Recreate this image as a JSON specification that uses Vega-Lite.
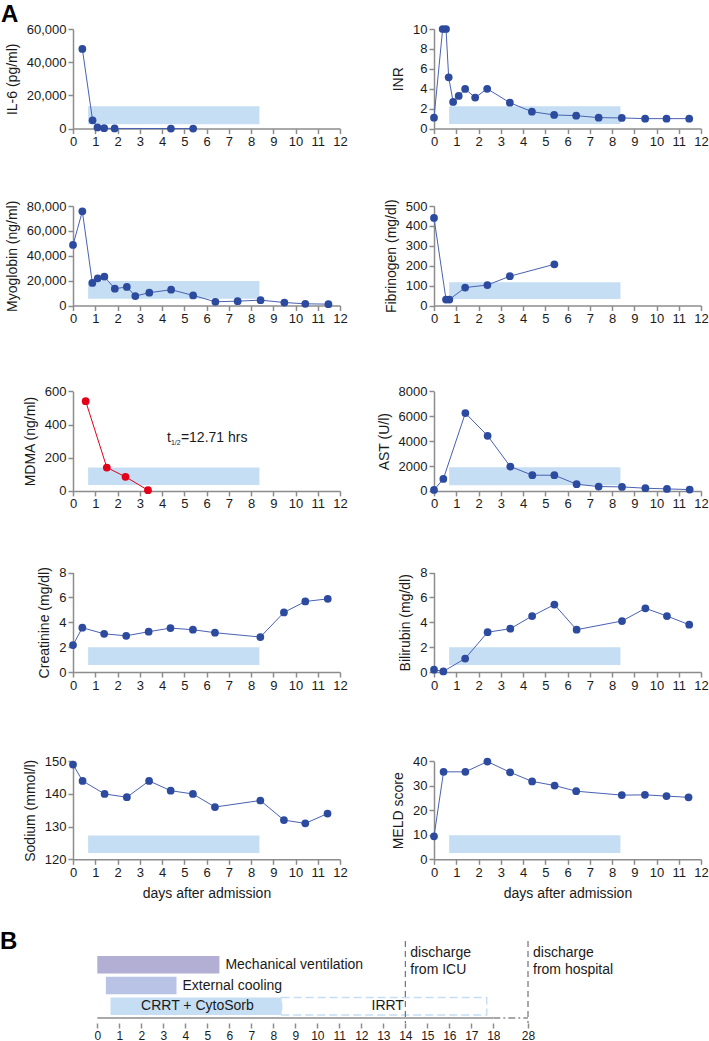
{
  "$schema": "https://vega.github.io/schema/vega-lite/v6.json",
  "padding": {"left": 0, "top": 3, "right": 0, "bottom": 0},
  "title": {"text": "A", "dx": -72, "offset": -4},
  "spacing": 28,
  "vconcat": [
    {
      "columns": 2,
      "align": "each",
      "bounds": "flush",
      "spacing": {"row": 77, "column": 94},
      "concat": [
        {
          "width": 267, "height": 99.6,
          "encoding": {
            "x": {"field": "day", "type": "quantitative", "scale": {"domain": [0, 12], "nice": false, "zero": false}, "axis": {"values": [0,1,2,3,4,5,6,7,8,9,10,11,12], "title": null}},
            "y": {"field": "value", "type": "quantitative", "scale": {"domain": [0, 60000], "nice": false, "zero": false, "range": [99.6, 0]}, "axis": {"values": [0, 20000, 40000, 60000], "format": ",.0f", "title": "IL-6 (pg/ml)"}}
          },
          "layer": [
            {"data": {"values": [{"day": 0.68, "day2": 8.38, "value": 2600, "value2": 13400}]}, "mark": {"type": "rect", "color": "#c5def3"}, "encoding": {"x2": {"field": "day2"}, "y2": {"field": "value2"}}},
            {"data": {"values": [{"day": 0.42, "value": 48000}, {"day": 0.88, "value": 5000}, {"day": 1.1, "value": 700}, {"day": 1.4, "value": 250}, {"day": 1.87, "value": 80}, {"day": 4.4, "value": 40}, {"day": 5.4, "value": 30}]}, "mark": {"type": "line", "color": "#4961b3", "strokeWidth": 1, "point": {"filled": true, "size": 60, "color": "#2c4a9e", "opacity": 1}}}
          ]
        },
        {
          "width": 267, "height": 99.6,
          "encoding": {
            "x": {"field": "day", "type": "quantitative", "scale": {"domain": [0, 12], "nice": false, "zero": false}, "axis": {"values": [0,1,2,3,4,5,6,7,8,9,10,11,12], "title": null}},
            "y": {"field": "value", "type": "quantitative", "scale": {"domain": [0, 10], "nice": false, "zero": false, "range": [99.6, 0]}, "axis": {"values": [0, 2, 4, 6, 8, 10], "title": "INR"}}
          },
          "layer": [
            {"data": {"values": [{"day": 0.68, "day2": 8.38, "value": 0.45, "value2": 2.25}]}, "mark": {"type": "rect", "color": "#c5def3"}, "encoding": {"x2": {"field": "day2"}, "y2": {"field": "value2"}}},
            {"data": {"values": [{"day": 0, "value": 1.1}, {"day": 0.39, "value": 10}, {"day": 0.54, "value": 10}, {"day": 0.66, "value": 5.15}, {"day": 0.86, "value": 2.68}, {"day": 1.11, "value": 3.28}, {"day": 1.4, "value": 3.98}, {"day": 1.85, "value": 3.11}, {"day": 2.39, "value": 4.0}, {"day": 3.41, "value": 2.6}, {"day": 4.4, "value": 1.7}, {"day": 5.4, "value": 1.37}, {"day": 6.39, "value": 1.3}, {"day": 7.4, "value": 1.1}, {"day": 8.44, "value": 1.07}, {"day": 9.49, "value": 1.0}, {"day": 10.45, "value": 1.0}, {"day": 11.47, "value": 1.0}]}, "mark": {"type": "line", "color": "#4961b3", "strokeWidth": 1, "point": {"filled": true, "size": 60, "color": "#2c4a9e", "opacity": 1}}}
          ]
        },
        {
          "width": 267, "height": 99.5,
          "encoding": {
            "x": {"field": "day", "type": "quantitative", "scale": {"domain": [0, 12], "nice": false, "zero": false}, "axis": {"values": [0,1,2,3,4,5,6,7,8,9,10,11,12], "title": null}},
            "y": {"field": "value", "type": "quantitative", "scale": {"domain": [0, 80000], "nice": false, "zero": false, "range": [99.5, 0]}, "axis": {"values": [0, 20000, 40000, 60000, 80000], "format": ",.0f", "title": "Myoglobin (ng/ml)"}}
          },
          "layer": [
            {"data": {"values": [{"day": 0.68, "day2": 8.38, "value": 5400, "value2": 19700}]}, "mark": {"type": "rect", "color": "#c5def3"}, "encoding": {"x2": {"field": "day2"}, "y2": {"field": "value2"}}},
            {"data": {"values": [{"day": 0, "value": 48650}, {"day": 0.42, "value": 75700}, {"day": 0.87, "value": 18100}, {"day": 1.11, "value": 21900}, {"day": 1.41, "value": 23200}, {"day": 1.88, "value": 13500}, {"day": 2.42, "value": 14900}, {"day": 2.8, "value": 7600}, {"day": 3.43, "value": 10300}, {"day": 4.41, "value": 12700}, {"day": 5.4, "value": 8100}, {"day": 6.4, "value": 3000}, {"day": 7.4, "value": 3500}, {"day": 8.43, "value": 4300}, {"day": 9.5, "value": 2400}, {"day": 10.44, "value": 1350}, {"day": 11.48, "value": 1100}]}, "mark": {"type": "line", "color": "#4961b3", "strokeWidth": 1, "point": {"filled": true, "size": 60, "color": "#2c4a9e", "opacity": 1}}}
          ]
        },
        {
          "width": 267, "height": 99.5,
          "encoding": {
            "x": {"field": "day", "type": "quantitative", "scale": {"domain": [0, 12], "nice": false, "zero": false}, "axis": {"values": [0,1,2,3,4,5,6,7,8,9,10,11,12], "title": null}},
            "y": {"field": "value", "type": "quantitative", "scale": {"domain": [0, 500], "nice": false, "zero": false, "range": [99.5, 0]}, "axis": {"values": [0, 100, 200, 300, 400, 500], "title": "Fibrinogen (mg/dl)"}}
          },
          "layer": [
            {"data": {"values": [{"day": 0.68, "day2": 8.38, "value": 33, "value2": 117}]}, "mark": {"type": "rect", "color": "#c5def3"}, "encoding": {"x2": {"field": "day2"}, "y2": {"field": "value2"}}},
            {"data": {"values": [{"day": 0, "value": 440}, {"day": 0.54, "value": 30}, {"day": 0.69, "value": 30}, {"day": 1.4, "value": 90}, {"day": 2.4, "value": 103}, {"day": 3.41, "value": 147}, {"day": 5.41, "value": 207}]}, "mark": {"type": "line", "color": "#4961b3", "strokeWidth": 1, "point": {"filled": true, "size": 60, "color": "#2c4a9e", "opacity": 1}}}
          ]
        },
        {
          "width": 267, "height": 107.9,
          "encoding": {
            "x": {"field": "day", "type": "quantitative", "scale": {"domain": [0, 12], "nice": false, "zero": false}, "axis": {"values": [0,1,2,3,4,5,6,7,8,9,10,11,12], "title": null}},
            "y": {"field": "value", "type": "quantitative", "scale": {"domain": [0, 600], "nice": false, "zero": false, "range": [107.9, 8.4]}, "axis": {"values": [0, 200, 400, 600], "title": "MDMA (ng/ml)"}}
          },
          "layer": [
            {"data": {"values": [{"day": 0.68, "day2": 8.38, "value": 36, "value2": 141}]}, "mark": {"type": "rect", "color": "#c5def3"}, "encoding": {"x2": {"field": "day2"}, "y2": {"field": "value2"}}},
            {"data": {"values": [{"day": 0.57, "value": 541}, {"day": 1.52, "value": 141}, {"day": 2.36, "value": 85}, {"day": 3.37, "value": 4}]}, "mark": {"type": "line", "color": "#e2001a", "strokeWidth": 1, "point": {"filled": true, "size": 60, "color": "#e2001a", "opacity": 1}}},
            {"data": {"values": [{"day": 4.22, "value": 320, "label": "t"}]}, "mark": {"type": "text", "align": "left", "baseline": "middle", "fontSize": 14, "color": "#1a1a1a"}, "encoding": {"text": {"field": "label"}}},
            {"data": {"values": [{"day": 4.22, "value": 320, "label": "1/2"}]}, "mark": {"type": "text", "align": "left", "baseline": "middle", "fontSize": 7, "dx": 4, "dy": 5, "color": "#1a1a1a"}, "encoding": {"text": {"field": "label"}}},
            {"data": {"values": [{"day": 4.22, "value": 320, "label": "=12.71 hrs"}]}, "mark": {"type": "text", "align": "left", "baseline": "middle", "fontSize": 14, "dx": 14, "color": "#1a1a1a"}, "encoding": {"text": {"field": "label"}}}
          ]
        },
        {
          "width": 267, "height": 107.9,
          "encoding": {
            "x": {"field": "day", "type": "quantitative", "scale": {"domain": [0, 12], "nice": false, "zero": false}, "axis": {"values": [0,1,2,3,4,5,6,7,8,9,10,11,12], "title": null}},
            "y": {"field": "value", "type": "quantitative", "scale": {"domain": [0, 8000], "nice": false, "zero": false, "range": [107.9, 8.4]}, "axis": {"values": [0, 2000, 4000, 6000, 8000], "format": "d", "title": "AST (U/l)"}}
          },
          "layer": [
            {"data": {"values": [{"day": 0.68, "day2": 8.38, "value": 451, "value2": 1900}]}, "mark": {"type": "rect", "color": "#c5def3"}, "encoding": {"x2": {"field": "day2"}, "y2": {"field": "value2"}}},
            {"data": {"values": [{"day": 0, "value": 80}, {"day": 0.42, "value": 966}, {"day": 1.41, "value": 6255}, {"day": 2.41, "value": 4430}, {"day": 3.43, "value": 1960}, {"day": 4.42, "value": 1262}, {"day": 5.41, "value": 1262}, {"day": 6.41, "value": 537}, {"day": 7.4, "value": 349}, {"day": 8.45, "value": 322}, {"day": 9.5, "value": 215}, {"day": 10.47, "value": 161}, {"day": 11.49, "value": 107}]}, "mark": {"type": "line", "color": "#4961b3", "strokeWidth": 1, "point": {"filled": true, "size": 60, "color": "#2c4a9e", "opacity": 1}}}
          ]
        },
        {
          "width": 267, "height": 104,
          "encoding": {
            "x": {"field": "day", "type": "quantitative", "scale": {"domain": [0, 12], "nice": false, "zero": false}, "axis": {"values": [0,1,2,3,4,5,6,7,8,9,10,11,12], "title": null}},
            "y": {"field": "value", "type": "quantitative", "scale": {"domain": [0, 8], "nice": false, "zero": false, "range": [104, 4.5]}, "axis": {"values": [0, 2, 4, 6, 8], "title": "Creatinine (mg/dl)"}}
          },
          "layer": [
            {"data": {"values": [{"day": 0.68, "day2": 8.38, "value": 0.56, "value2": 2.0}]}, "mark": {"type": "rect", "color": "#c5def3"}, "encoding": {"x2": {"field": "day2"}, "y2": {"field": "value2"}}},
            {"data": {"values": [{"day": 0, "value": 2.17}, {"day": 0.42, "value": 3.56}, {"day": 1.4, "value": 3.07}, {"day": 2.39, "value": 2.91}, {"day": 3.4, "value": 3.24}, {"day": 4.38, "value": 3.53}, {"day": 5.39, "value": 3.4}, {"day": 6.38, "value": 3.16}, {"day": 8.42, "value": 2.81}, {"day": 9.48, "value": 4.79}, {"day": 10.44, "value": 5.67}, {"day": 11.45, "value": 5.88}]}, "mark": {"type": "line", "color": "#4961b3", "strokeWidth": 1, "point": {"filled": true, "size": 60, "color": "#2c4a9e", "opacity": 1}}}
          ]
        },
        {
          "width": 267, "height": 104,
          "encoding": {
            "x": {"field": "day", "type": "quantitative", "scale": {"domain": [0, 12], "nice": false, "zero": false}, "axis": {"values": [0,1,2,3,4,5,6,7,8,9,10,11,12], "title": null}},
            "y": {"field": "value", "type": "quantitative", "scale": {"domain": [0, 8], "nice": false, "zero": false, "range": [104, 4.5]}, "axis": {"values": [0, 2, 4, 6, 8], "title": "Bilirubin (mg/dl)"}}
          },
          "layer": [
            {"data": {"values": [{"day": 0.68, "day2": 8.38, "value": 0.56, "value2": 2.0}]}, "mark": {"type": "rect", "color": "#c5def3"}, "encoding": {"x2": {"field": "day2"}, "y2": {"field": "value2"}}},
            {"data": {"values": [{"day": 0, "value": 0.19}, {"day": 0.42, "value": 0.05}, {"day": 1.4, "value": 1.08}, {"day": 2.41, "value": 3.2}, {"day": 3.43, "value": 3.48}, {"day": 4.41, "value": 4.5}, {"day": 5.41, "value": 5.42}, {"day": 6.41, "value": 3.4}, {"day": 8.45, "value": 4.1}, {"day": 9.5, "value": 5.12}, {"day": 10.47, "value": 4.5}, {"day": 11.47, "value": 3.8}]}, "mark": {"type": "line", "color": "#4961b3", "strokeWidth": 1, "point": {"filled": true, "size": 60, "color": "#2c4a9e", "opacity": 1}}}
          ]
        },
        {
          "width": 267, "height": 110.3,
          "encoding": {
            "x": {"field": "day", "type": "quantitative", "scale": {"domain": [0, 12], "nice": false, "zero": false}, "axis": {"values": [0,1,2,3,4,5,6,7,8,9,10,11,12], "title": "days after admission"}},
            "y": {"field": "value", "type": "quantitative", "scale": {"domain": [120, 150], "nice": false, "zero": false, "range": [110.3, 12.3]}, "axis": {"values": [120, 130, 140, 150], "title": "Sodium (mmol/l)"}}
          },
          "layer": [
            {"data": {"values": [{"day": 0.68, "day2": 8.38, "value": 121.9, "value2": 127.3}]}, "mark": {"type": "rect", "color": "#c5def3"}, "encoding": {"x2": {"field": "day2"}, "y2": {"field": "value2"}}},
            {"data": {"values": [{"day": 0, "value": 149}, {"day": 0.43, "value": 144}, {"day": 1.42, "value": 140}, {"day": 2.42, "value": 139}, {"day": 3.42, "value": 144}, {"day": 4.39, "value": 141}, {"day": 5.39, "value": 140}, {"day": 6.38, "value": 136}, {"day": 8.42, "value": 138}, {"day": 9.48, "value": 132}, {"day": 10.44, "value": 131}, {"day": 11.44, "value": 134}]}, "mark": {"type": "line", "color": "#4961b3", "strokeWidth": 1, "point": {"filled": true, "size": 60, "color": "#2c4a9e", "opacity": 1}}}
          ]
        },
        {
          "width": 267, "height": 110.3,
          "encoding": {
            "x": {"field": "day", "type": "quantitative", "scale": {"domain": [0, 12], "nice": false, "zero": false}, "axis": {"values": [0,1,2,3,4,5,6,7,8,9,10,11,12], "title": "days after admission"}},
            "y": {"field": "value", "type": "quantitative", "scale": {"domain": [0, 40], "nice": false, "zero": false, "range": [110.3, 12.3]}, "axis": {"values": [0, 10, 20, 30, 40], "title": "MELD score"}}
          },
          "layer": [
            {"data": {"values": [{"day": 0.68, "day2": 8.38, "value": 2.6, "value2": 9.85}]}, "mark": {"type": "rect", "color": "#c5def3"}, "encoding": {"x2": {"field": "day2"}, "y2": {"field": "value2"}}},
            {"data": {"values": [{"day": 0, "value": 9.4}, {"day": 0.43, "value": 35.7}, {"day": 1.41, "value": 35.7}, {"day": 2.4, "value": 39.9}, {"day": 3.42, "value": 35.5}, {"day": 4.41, "value": 31.8}, {"day": 5.42, "value": 30.1}, {"day": 6.39, "value": 27.8}, {"day": 8.44, "value": 26.2}, {"day": 9.48, "value": 26.3}, {"day": 10.45, "value": 25.8}, {"day": 11.44, "value": 25.3}]}, "mark": {"type": "line", "color": "#4961b3", "strokeWidth": 1, "point": {"filled": true, "size": 60, "color": "#2c4a9e", "opacity": 1}}}
          ]
        }
      ]
    },
    {
      "width": 460, "height": 82,
      "title": {"text": "B", "dx": -73, "offset": -13},
      "encoding": {
        "x": {"field": "start", "type": "quantitative", "scale": {"domain": [0, 18, 28], "range": [24.3, 420.3, 455], "nice": false, "zero": false}, "axis": {"values": [0,1,2,3,4,5,6,7,8,9,10,11,12,13,14,15,16,17,18,28], "title": null, "domain": false, "labelFontSize": 12}}
      },
      "layer": [
        {
          "data": {"values": [{"task": "Mechanical ventilation", "start": 0, "end": 5.55, "lane": 3}, {"task": "External cooling", "start": 0.39, "end": 3.6, "lane": 2}, {"task": "CRRT + CytoSorb", "start": 0.6, "end": 8.38, "lane": 1}]},
          "mark": {"type": "bar", "size": 17.5, "opacity": 1},
          "encoding": {
            "x2": {"field": "end"},
            "y": {"field": "lane", "type": "quantitative", "scale": {"domain": [0.43, 3.91], "nice": false, "zero": false}, "axis": null},
            "color": {"field": "task", "type": "nominal", "scale": {"domain": ["Mechanical ventilation", "External cooling", "CRRT + CytoSorb"], "range": ["#b3aed3", "#b9c3e6", "#c5def3"]}, "legend": null}
          }
        },
        {
          "data": {"values": [{"task": "IRRT", "start": 8.38, "end": 17.7, "lane": 1}]},
          "mark": {"type": "bar", "size": 17.5, "filled": false, "color": "#c5def3", "strokeWidth": 1.5, "strokeDash": [8, 4]},
          "encoding": {
            "x2": {"field": "end"},
            "y": {"field": "lane", "type": "quantitative"}
          }
        },
        {
          "data": {"values": [{"event": "discharge from ICU", "start": 14}, {"event": "discharge from hospital", "start": 28}]},
          "mark": {"type": "rule", "color": "#555555", "strokeWidth": 1, "strokeDash": [6, 4]},
          "encoding": {}
        },
        {
          "data": {"values": [{"start": 0, "end": 18, "lane": 0.43}]},
          "mark": {"type": "rule", "color": "#8c8c8c", "strokeWidth": 1.5},
          "encoding": {"x2": {"field": "end"}, "y": {"field": "lane", "type": "quantitative"}}
        },
        {
          "data": {"values": [{"start": 18, "end": 28, "lane": 0.43}]},
          "mark": {"type": "rule", "color": "#8c8c8c", "strokeWidth": 1.5, "strokeDash": [7, 3, 2, 3]},
          "encoding": {"x2": {"field": "end"}, "y": {"field": "lane", "type": "quantitative"}}
        },
        {
          "data": {"values": [{"start": 5.55, "lane": 3, "label": "Mechanical ventilation"}, {"start": 3.6, "lane": 2, "label": "External cooling"}]},
          "mark": {"type": "text", "align": "left", "baseline": "middle", "dx": 6, "fontSize": 14, "color": "#1a1a1a"},
          "encoding": {"y": {"field": "lane", "type": "quantitative"}, "text": {"field": "label"}}
        },
        {
          "data": {"values": [{"start": 4.55, "lane": 1, "label": "CRRT + CytoSorb"}, {"start": 13.2, "lane": 1, "label": "IRRT"}]},
          "mark": {"type": "text", "align": "center", "baseline": "middle", "fontSize": 14, "color": "#1a1a1a"},
          "encoding": {"y": {"field": "lane", "type": "quantitative"}, "text": {"field": "label"}}
        },
        {
          "data": {"values": [{"start": 14, "lane": 3.91, "label": "discharge\nfrom ICU"}, {"start": 28, "lane": 3.91, "label": "discharge\nfrom hospital"}]},
          "mark": {"type": "text", "align": "left", "baseline": "top", "dx": 5, "dy": 0, "fontSize": 14, "lineHeight": 17, "lineBreak": "\n", "color": "#1a1a1a"},
          "encoding": {"y": {"field": "lane", "type": "quantitative"}, "text": {"field": "label"}}
        }
      ]
    }
  ],
  "config": {
    "font": "Liberation Sans",
    "view": {"stroke": null},
    "axis": {"domainColor": "#8c8c8c", "domainWidth": 1.5, "tickColor": "#8c8c8c", "tickWidth": 1.5, "tickSize": 5, "labelFont": "Liberation Sans", "labelFontSize": 13, "labelColor": "#1a1a1a", "labelPadding": 2, "titleFont": "Liberation Sans", "titleFontSize": 14, "titleFontWeight": "normal", "titleColor": "#1a1a1a", "grid": false, "labelFlush": false, "labelOverlap": false, "titlePadding": 7},
    "title": {"font": "Liberation Sans", "fontSize": 24, "fontWeight": "bold", "anchor": "start", "frame": "group", "color": "#000000"}
  }
}
